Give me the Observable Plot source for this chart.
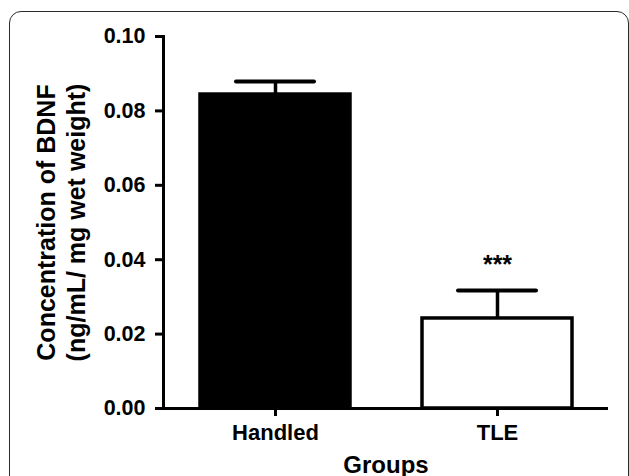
<!DOCTYPE html>
<html>
<head>
<meta charset="utf-8">
<script src="https://cdn.jsdelivr.net/npm/d3@7"></script>
<script src="https://cdn.jsdelivr.net/npm/@observablehq/plot@0.6"></script>
<style>
  html, body { margin: 0; padding: 0; background: #fff; overflow: hidden; }
  #wrap { position: relative; width: 629px; height: 476px; overflow: hidden; background: #fff; }
  #border { position: absolute; left: 9px; top: 11px; width: 620px; height: 520px; box-sizing: border-box;
            border: 1.5px solid #2a2a2a; border-radius: 12px; pointer-events: none; }
  #chart { position: absolute; left: 0; top: 0; }
</style>
</head>
<body>
<div id="wrap"><div id="border"></div><div id="chart"></div></div>
<script>
const groups = ["Handled", "TLE"];
const means = [0.0844, 0.0242];
const sems = [0.0035, 0.0075];
const significance = ["", "***"];
const yTicks = [0, 0.02, 0.04, 0.06, 0.08, 0.10];
const yLabel = "Concentration of BDNF\n(ng/mL/ mg wet weight)";
const xLabel = "Groups";

const data = groups.map((g, i) => ({group: g, mean: means[i], upper: means[i] + sems[i], sig: significance[i]}));

const chart = Plot.plot({
  width: 629,
  height: 476,
  marginLeft: 163,
  marginRight: 21,
  marginTop: 36,
  marginBottom: 68,
  style: {fontFamily: "'Liberation Sans', Arial, sans-serif", fontWeight: "bold", background: "transparent", color: "#000"},
  x: {domain: groups, paddingInner: 0.326, paddingOuter: 0.163, axis: null, label: null},
  y: {domain: [0, 0.1], axis: null, label: null},
  color: {domain: groups, range: ["#000", "#fff"]},
  marks: [
    Plot.barY(data, {x: "group", y: "mean", fill: "group", stroke: "#000", strokeWidth: 3.5}),
    Plot.ruleX(data, {x: "group", y1: "mean", y2: "upper", stroke: "#000", strokeWidth: 3.5}),
    Plot.tickY(data, {x: "group", y: "upper", stroke: "#000", strokeWidth: 4, insetLeft: 36, insetRight: 36, strokeLinecap: "round"}),
    Plot.text(data, {x: "group", y: "upper", text: "sig", dy: -26, fontSize: 25}),
    Plot.ruleY([0], {stroke: "#000", strokeWidth: 3}),
    Plot.frame({anchor: "left", stroke: "#000", strokeWidth: 3}),
    Plot.axisY({ticks: yTicks, tickFormat: d3.format(".2f"), tickSize: 8, tickPadding: 10, strokeWidth: 3, fontSize: 21.5, label: null}),
    Plot.axisX({tickSize: 8, tickPadding: 8, strokeWidth: 3, fontSize: 22, label: null}),
    Plot.text([yLabel], {frameAnchor: "left", textAnchor: "middle", rotate: -90, dx: -103, fontSize: 25, lineHeight: 1.2}),
    Plot.text([xLabel], {frameAnchor: "bottom", dy: 64, lineAnchor: "bottom", fontSize: 24})
  ]
});
document.getElementById("chart").appendChild(chart);
</script>
</body>
</html>
